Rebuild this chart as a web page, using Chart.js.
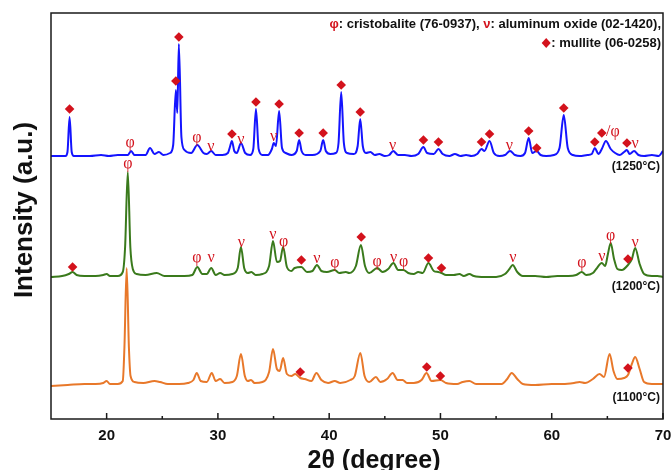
<!DOCTYPE html>
<html>
<head>
<meta charset="utf-8">
<script src="https://cdn.jsdelivr.net/npm/chart.js@4.4.1/dist/chart.umd.min.js"></script>
<style>
  body { margin: 0; background: #fff; }
</style>
</head>
<body>
<canvas id="xrd" width="672" height="470"></canvas>
<script>
// XRD patterns, [2theta, intensity] (a.u., traces already stacked)
const trace1250 = [
    [15, 263], [16.3, 263], [16.48, 267], [16.67, 302], [16.86, 267], [17.05, 263], [18.5, 263], [19.5, 264],
    [20.2, 263], [21.0, 264], [21.9, 264], [22.2, 268], [22.5, 264], [23.5, 264], [23.9, 271], [24.3, 265],
    [24.7, 267], [25.1, 264], [25.7, 266], [25.98, 274], [26.22, 329], [26.35, 306], [26.49, 375], [26.72, 282],
    [27.0, 269], [27.6, 266], [28.15, 274], [28.7, 266], [29.0, 265], [29.4, 268], [29.8, 264], [30.4, 264],
    [30.9, 266], [31.08, 272], [31.26, 278], [31.47, 268], [31.7, 266], [32.07, 276], [32.45, 266], [32.9, 264],
    [33.18, 270], [33.42, 310], [33.66, 270], [34.0, 264], [34.5, 264], [34.85, 270], [35.02, 276], [35.22, 273],
    [35.5, 308], [35.76, 271], [36.1, 266], [36.6, 264], [37.08, 268], [37.3, 279], [37.52, 268], [37.9, 264],
    [38.5, 264], [39.2, 268], [39.46, 279], [39.7, 268], [40.1, 265], [40.6, 266], [40.84, 276], [41.08, 327],
    [41.32, 276], [41.6, 266], [42.2, 265], [42.56, 273], [42.79, 300], [43.02, 273], [43.3, 266], [43.7, 267],
    [44.1, 264], [44.5, 265], [45.0, 263], [45.4, 264], [45.75, 268], [46.2, 264], [46.8, 264], [47.4, 263],
    [48.0, 265], [48.47, 272], [48.8, 266], [49.4, 265], [49.82, 270], [50.2, 265], [50.8, 263], [51.3, 265],
    [51.8, 263], [52.3, 264], [52.8, 263], [53.3, 265], [53.69, 270], [53.95, 268], [54.41, 278], [54.8, 266],
    [55.3, 263], [55.8, 264], [56.25, 268], [56.7, 264], [57.2, 263], [57.6, 266], [57.93, 281], [58.25, 266],
    [58.65, 268], [59.0, 264], [59.5, 263], [60.2, 264], [60.7, 271], [61.08, 304], [61.44, 271], [61.9, 264],
    [62.5, 263], [63.2, 264], [63.6, 265], [63.87, 271], [64.2, 265], [64.5, 270], [64.87, 278], [65.3, 270],
    [65.7, 266], [66.1, 264], [66.5, 267], [66.76, 269], [67.0, 265], [67.4, 268], [67.8, 264], [68.3, 263],
    [69.0, 264], [69.6, 263], [70, 268]
];
const trace1200 = [
    [15, 142], [16.0, 143], [16.6, 145], [16.94, 147], [17.3, 144], [18.0, 143], [19.0, 143], [19.7, 144],
    [20.0, 145], [20.3, 143], [21.0, 143], [21.45, 147], [21.66, 172], [21.9, 247], [22.13, 172], [22.35, 150],
    [22.7, 145], [23.5, 144], [24.5, 146], [25.2, 143], [26.0, 143], [27.0, 143], [27.7, 144], [28.15, 152],
    [28.6, 145], [29.0, 145], [29.4, 151], [29.8, 144], [30.2, 146], [30.6, 144], [31.3, 145], [31.78, 151],
    [32.07, 172], [32.36, 151], [32.7, 146], [33.0, 147], [33.4, 144], [34.0, 145], [34.6, 153], [34.95, 178],
    [35.3, 157], [35.58, 158], [35.86, 172], [36.2, 152], [36.6, 148], [36.9, 151], [37.5, 152], [38.0, 147],
    [38.5, 148], [38.9, 154], [39.3, 148], [39.8, 147], [40.5, 149], [40.9, 146], [41.5, 147], [41.8, 146],
    [42.4, 153], [42.85, 174], [43.22, 153], [43.6, 146], [44.32, 151], [44.8, 147], [45.3, 150], [45.77, 156],
    [46.2, 149], [46.67, 149], [47.1, 146], [47.6, 145], [48.0, 147], [48.4, 146], [48.92, 156], [49.4, 148],
    [49.8, 147], [50.09, 146], [50.5, 144], [51.2, 144], [51.7, 145], [52.1, 143], [52.6, 145], [53.0, 143],
    [54.0, 142], [55.0, 142], [55.8, 145], [56.2, 150], [56.49, 154], [56.9, 147], [57.4, 143], [58.5, 143],
    [59.5, 142], [60.5, 143], [61.5, 143], [62.2, 144], [62.7, 147], [63.1, 144], [63.7, 146], [64.0, 150],
    [64.5, 156], [64.8, 153], [65.05, 165], [65.3, 176], [65.6, 160], [65.9, 150], [66.3, 149], [66.85, 154],
    [67.2, 160], [67.5, 171], [67.9, 155], [68.3, 145], [69.0, 143], [69.5, 143], [70, 142]
];
const trace1100 = [
    [15, 33], [16.5, 34], [18.0, 35], [19.0, 35], [19.7, 36], [20.0, 38], [20.3, 35], [21.0, 35],
    [21.45, 38], [21.6, 72], [21.8, 151], [22.0, 72], [22.15, 43], [22.5, 37], [23.3, 36], [24.3, 38],
    [24.8, 37], [25.5, 35], [26.5, 35], [27.3, 36], [27.8, 39], [28.1, 46], [28.45, 38], [29.0, 37],
    [29.45, 46], [29.8, 38], [30.2, 40], [30.6, 36], [31.3, 37], [31.7, 43], [32.07, 65], [32.42, 43],
    [32.7, 38], [32.97, 39], [33.3, 36], [34.0, 37], [34.6, 47], [34.95, 70], [35.3, 50], [35.55, 48],
    [35.86, 61], [36.2, 45], [36.6, 43], [36.95, 45], [37.4, 41], [37.8, 40], [38.4, 38], [38.85, 46],
    [39.3, 39], [39.9, 36], [40.5, 38], [41.0, 36], [41.9, 39], [42.3, 43], [42.8, 66], [43.18, 43],
    [43.6, 37], [44.2, 42], [44.6, 37], [45.2, 40], [45.7, 46], [46.15, 39], [46.6, 39], [47.0, 36],
    [47.6, 36], [48.3, 39], [48.75, 46], [49.2, 38], [50.0, 39], [50.5, 36], [51.5, 35], [52.0, 37],
    [52.6, 38], [53.2, 35], [54.5, 35], [55.5, 35], [56.0, 40], [56.4, 46], [56.9, 40], [57.4, 35],
    [58.5, 34], [60.0, 35], [61.0, 35], [62.0, 36], [62.5, 37], [63.0, 36], [63.7, 40], [64.3, 45],
    [64.7, 42], [65.2, 65], [65.55, 48], [65.9, 40], [66.5, 41], [66.85, 44], [67.2, 55], [67.5, 62],
    [67.9, 50], [68.3, 37], [69.0, 35], [70, 35]
];

// phase marks: mullite diamonds, cristobalite (φ) and aluminum oxide (ν) letters
const mullite1250 = [
    [16.67, 310], [26.22, 338], [26.49, 382], [31.26, 285], [33.42, 317], [35.5, 315], [37.3, 286],
    [39.46, 286], [41.08, 334], [42.79, 307], [48.47, 279], [49.82, 277], [53.69, 277], [54.41, 285],
    [57.93, 288], [58.65, 271], [61.08, 311], [63.87, 277], [64.5, 286], [66.76, 276]
];
const mullite1200 = [[16.94, 152], [37.5, 159], [42.88, 182], [48.92, 161], [50.09, 151], [66.85, 160]];
const mullite1100 = [[37.4, 47], [48.77, 52], [49.99, 43], [66.85, 51]];

const cristo1250 = [[22.1, 276], [28.1, 281]];
const alumina1250 = [[29.37, 272], [32.07, 279], [35.0, 282], [45.7, 273], [56.2, 273], [67.5, 275]];
const slashCristo1250 = [[65.5, 287]];
const cristo1200 = [[21.9, 255], [28.1, 161], [35.9, 177], [40.5, 156], [44.3, 157], [46.7, 157], [62.7, 156], [65.3, 183]];
const alumina1200 = [[29.4, 161], [32.1, 176], [34.95, 184], [38.9, 160], [45.8, 161], [56.5, 161], [64.5, 162], [67.5, 176]];

const tempLabels = ["(1250°C)", "(1200°C)", "(1100°C)"];
const tempLabelY = [252, 132, 21];

const xTicks = [20, 30, 40, 50, 60, 70];
const xMinorTicks = [25, 35, 45, 55, 65];

const markRed = "#d3121c";
const sans = "'Liberation Sans', Arial, sans-serif";

function phaseText(ctx, sx, sy, pts, text) {
    pts.forEach(p => {
        ctx.fillText(text, sx.getPixelForValue(p[0]), sy.getPixelForValue(p[1]));
    });
}

const overlay = {
    id: "overlay",
    afterDatasetsDraw(chart) {
        const { ctx, chartArea: a, scales: { x, y } } = chart;
        ctx.save();

        // phase letters
        ctx.fillStyle = markRed;
        ctx.font = "16px 'Liberation Serif', serif";
        ctx.textAlign = "center";
        ctx.textBaseline = "middle";
        phaseText(ctx, x, y, cristo1250, "φ");
        phaseText(ctx, x, y, alumina1250, "ν");
        phaseText(ctx, x, y, cristo1200, "φ");
        phaseText(ctx, x, y, alumina1200, "ν");
        phaseText(ctx, x, y, slashCristo1250, "/φ");

        // frame
        ctx.strokeStyle = "#1a1a1a";
        ctx.lineWidth = 1.5;
        ctx.strokeRect(a.left, a.top, a.width, a.height);

        // inside ticks
        ctx.beginPath();
        xTicks.forEach(v => {
            const px = x.getPixelForValue(v);
            ctx.moveTo(px, a.bottom);
            ctx.lineTo(px, a.bottom - 6);
        });
        xMinorTicks.forEach(v => {
            const px = x.getPixelForValue(v);
            ctx.moveTo(px, a.bottom);
            ctx.lineTo(px, a.bottom - 3);
        });
        ctx.stroke();

        // tick labels
        ctx.fillStyle = "#111";
        ctx.font = "bold 15px " + sans;
        ctx.textBaseline = "middle";
        xTicks.forEach(v => ctx.fillText(String(v), x.getPixelForValue(v), a.bottom + 17));

        // axis titles
        ctx.font = "bold 25px " + sans;
        ctx.textBaseline = "alphabetic";
        ctx.fillText("2θ (degree)", 374, 468);
        ctx.save();
        ctx.translate(32, (a.top + a.bottom) / 2 - 6);
        ctx.rotate(-Math.PI / 2);
        ctx.font = "bold 26px " + sans;
        ctx.fillText("Intensity (a.u.)", 0, 0);
        ctx.restore();

        // temperature labels
        ctx.font = "bold 12px " + sans;
        ctx.textAlign = "right";
        ctx.textBaseline = "middle";
        tempLabels.forEach((t, i) => ctx.fillText(t, a.right - 3, y.getPixelForValue(tempLabelY[i])));

        // legend text, right aligned
        ctx.font = "bold 13px " + sans;
        ctx.textAlign = "left";
        const line1 = [["φ", markRed], [": cristobalite (76-0937), ", "#111"], ["ν", markRed], [": aluminum oxide (02-1420),", "#111"]];
        let w = line1.reduce((s, p) => s + ctx.measureText(p[0]).width, 0);
        let cx = a.right - 2 - w;
        line1.forEach(p => {
            ctx.fillStyle = p[1];
            ctx.fillText(p[0], cx, 24);
            cx += ctx.measureText(p[0]).width;
        });
        const line2 = ": mullite (06-0258)";
        const w2 = ctx.measureText(line2).width;
        ctx.fillStyle = "#111";
        ctx.fillText(line2, a.right - 2 - w2, 43);
        const dx = a.right - 2 - w2 - 5, dy = 43;
        ctx.fillStyle = markRed;
        ctx.beginPath();
        ctx.moveTo(dx, dy - 5);
        ctx.lineTo(dx + 4.5, dy);
        ctx.lineTo(dx, dy + 5);
        ctx.lineTo(dx - 4.5, dy);
        ctx.closePath();
        ctx.fill();

        ctx.restore();
    }
};

function lineSet(label, data, color) {
    return {
        label: label,
        data: data,
        borderColor: color,
        borderWidth: 2,
        pointRadius: 0,
        cubicInterpolationMode: "monotone",
        order: 2
    };
}

function markSet(label, data) {
    return {
        type: "scatter",
        label: label,
        data: data,
        pointStyle: "rectRot",
        pointRadius: 4.8,
        pointBackgroundColor: markRed,
        pointBorderWidth: 0,
        order: 0
    };
}

new Chart(document.getElementById("xrd"), {
    type: "line",
    data: {
        datasets: [
            lineSet("1250°C", trace1250, "#1414ff"),
            lineSet("1200°C", trace1200, "#3a7a1c"),
            lineSet("1100°C", trace1100, "#e8782a"),
            markSet("mullite 1250", mullite1250),
            markSet("mullite 1200", mullite1200),
            markSet("mullite 1100", mullite1100)
        ]
    },
    options: {
        responsive: false,
        animation: false,
        layout: { padding: { left: 51, right: 9, top: 13, bottom: 51 } },
        plugins: {
            legend: { display: false },
            tooltip: { enabled: false }
        },
        scales: {
            x: { type: "linear", min: 15, max: 70, display: false },
            y: { min: 0, max: 406, display: false }
        }
    },
    plugins: [overlay]
});
</script>
</body>
</html>
